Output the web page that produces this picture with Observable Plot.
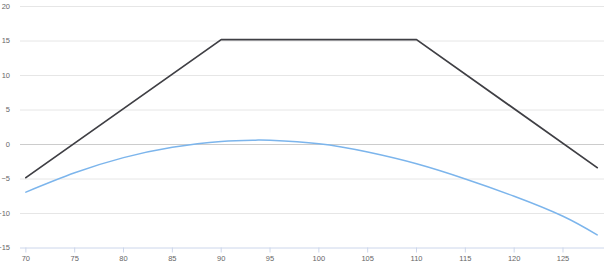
<!DOCTYPE html>
<html>
<head>
<meta charset="utf-8">
<script src="https://cdn.jsdelivr.net/npm/d3@7"></script>
<script src="https://cdn.jsdelivr.net/npm/@observablehq/plot@0.6"></script>
<style>
  html, body { margin: 0; padding: 0; background: #fff; }
  #chart { width: 604px; height: 270px; overflow: hidden; }
</style>
</head>
<body>
<div id="chart"></div>
<script>
// Payoff at expiry (dark line)
const payoffX = [70, 90, 110, 128.5];
const payoffY = [-4.8, 15.2, 15.2, -3.35];

// Current value curve (blue)
const curveX = [70, 75, 80, 85, 90, 93.5, 95, 100, 105, 110, 115, 120, 125, 128.5];
const curveY = [-6.9, -4.1, -1.9, -0.4, 0.45, 0.63, 0.6, 0.1, -1.1, -2.8, -5.0, -7.5, -10.4, -13.1];

const xTicks = [70, 75, 80, 85, 90, 95, 100, 105, 110, 115, 120, 125];
const yTicks = [-15, -10, -5, 0, 5, 10, 15, 20];

const payoff = payoffX.map((x, i) => ({x, y: payoffY[i]}));
const curve = curveX.map((x, i) => ({x, y: curveY[i]}));

const chart = Plot.plot({
  width: 604,
  height: 270,
  marginLeft: 20,
  marginRight: 0,
  marginTop: 6,
  marginBottom: 22.5,
  style: {fontFamily: "'Liberation Sans', Arial, sans-serif", fontSize: "7.5px", background: "#fff"},
  x: {domain: [69.45, 129.25]},
  y: {domain: [-15, 20]},
  marks: [
    Plot.gridY(yTicks.filter(d => d !== 0 && d !== -15), {stroke: "#e6e6e6", strokeOpacity: 1}),
    Plot.ruleY([0], {stroke: "#cccccc"}),
    Plot.ruleY([-15], {stroke: "#ccd6eb"}),
    Plot.axisY(yTicks, {tickSize: 0, tickPadding: 10.5, fill: "#666", tickFormat: d => d < 0 ? "\u2212" + Math.abs(d) : String(d), label: null}),
    Plot.axisX(xTicks, {tickSize: 5, tickPadding: 3, stroke: "#ccd6eb", fill: "#666", tickFormat: d => String(d), label: null}),
    Plot.line(curve, {x: "x", y: "y", stroke: "#7cb5ec", strokeWidth: 1.5, curve: "natural"}),
    Plot.line(payoff, {x: "x", y: "y", stroke: "#3f3f44", strokeWidth: 1.8})
  ]
});
document.getElementById("chart").appendChild(chart);
</script>
</body>
</html>
